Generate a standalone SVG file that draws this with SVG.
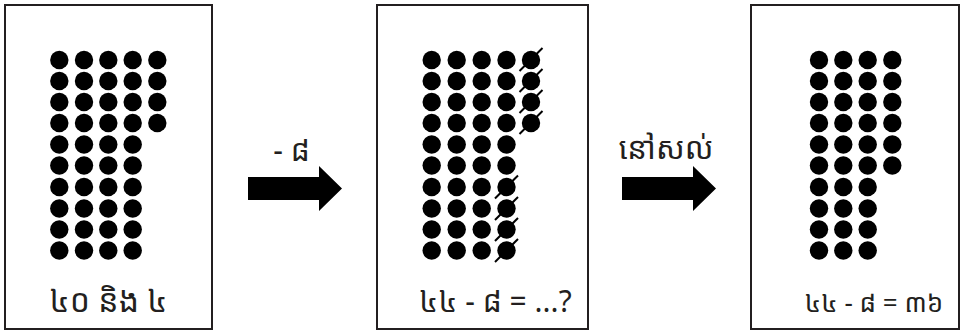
<svg xmlns="http://www.w3.org/2000/svg" width="961" height="331" viewBox="0 0 961 331">
<defs>
<style>
.box{fill:#fff;stroke:#231f20;stroke-width:2}
.d{fill:#000}
.x{stroke:#000;stroke-width:2;stroke-linecap:butt}
.t{font-family:"Noto Sans Khmer","Khmer OS","Noto Sans","DejaVu Sans",sans-serif;font-size:30px;fill:#231f20;text-anchor:middle}
.arr{fill:#000}
</style>
<circle id="dot" r="9.2"/>
</defs>
<rect width="961" height="331" fill="#fff"/>
<g id="box1">
<rect class="box" x="5" y="5" width="207" height="324"/>
<g class="d">
<use href="#dot" x="59.3" y="60"/><use href="#dot" x="84" y="60"/><use href="#dot" x="108.3" y="60"/><use href="#dot" x="132.7" y="60"/><use href="#dot" x="157.3" y="60"/>
<use href="#dot" x="59.3" y="81"/><use href="#dot" x="84" y="81"/><use href="#dot" x="108.3" y="81"/><use href="#dot" x="132.7" y="81"/><use href="#dot" x="157.3" y="81"/>
<use href="#dot" x="59.3" y="102"/><use href="#dot" x="84" y="102"/><use href="#dot" x="108.3" y="102"/><use href="#dot" x="132.7" y="102"/><use href="#dot" x="157.3" y="102"/>
<use href="#dot" x="59.3" y="123"/><use href="#dot" x="84" y="123"/><use href="#dot" x="108.3" y="123"/><use href="#dot" x="132.7" y="123"/><use href="#dot" x="157.3" y="123"/>
<use href="#dot" x="59.3" y="144.5"/><use href="#dot" x="84" y="144.5"/><use href="#dot" x="108.3" y="144.5"/><use href="#dot" x="132.7" y="144.5"/>
<use href="#dot" x="59.3" y="165.5"/><use href="#dot" x="84" y="165.5"/><use href="#dot" x="108.3" y="165.5"/><use href="#dot" x="132.7" y="165.5"/>
<use href="#dot" x="59.3" y="187"/><use href="#dot" x="84" y="187"/><use href="#dot" x="108.3" y="187"/><use href="#dot" x="132.7" y="187"/>
<use href="#dot" x="59.3" y="208.5"/><use href="#dot" x="84" y="208.5"/><use href="#dot" x="108.3" y="208.5"/><use href="#dot" x="132.7" y="208.5"/>
<use href="#dot" x="59.3" y="229.5"/><use href="#dot" x="84" y="229.5"/><use href="#dot" x="108.3" y="229.5"/><use href="#dot" x="132.7" y="229.5"/>
<use href="#dot" x="59.3" y="250.5"/><use href="#dot" x="84" y="250.5"/><use href="#dot" x="108.3" y="250.5"/><use href="#dot" x="132.7" y="250.5"/>
</g>
<text class="t" x="108.5" y="312" style="font-size:32px">៤០ និង ៤</text>
</g>
<g id="box2">
<rect class="box" x="377" y="5" width="211" height="324"/>
<g class="d">
<use href="#dot" x="431.7" y="60"/><use href="#dot" x="456.7" y="60"/><use href="#dot" x="481.7" y="60"/><use href="#dot" x="506.5" y="60"/><use href="#dot" x="531" y="60"/>
<use href="#dot" x="431.7" y="81"/><use href="#dot" x="456.7" y="81"/><use href="#dot" x="481.7" y="81"/><use href="#dot" x="506.5" y="81"/><use href="#dot" x="531" y="81"/>
<use href="#dot" x="431.7" y="102"/><use href="#dot" x="456.7" y="102"/><use href="#dot" x="481.7" y="102"/><use href="#dot" x="506.5" y="102"/><use href="#dot" x="531" y="102"/>
<use href="#dot" x="431.7" y="123"/><use href="#dot" x="456.7" y="123"/><use href="#dot" x="481.7" y="123"/><use href="#dot" x="506.5" y="123"/><use href="#dot" x="531" y="123"/>
<use href="#dot" x="431.7" y="144.5"/><use href="#dot" x="456.7" y="144.5"/><use href="#dot" x="481.7" y="144.5"/><use href="#dot" x="506.5" y="144.5"/>
<use href="#dot" x="431.7" y="165.5"/><use href="#dot" x="456.7" y="165.5"/><use href="#dot" x="481.7" y="165.5"/><use href="#dot" x="506.5" y="165.5"/>
<use href="#dot" x="431.7" y="187"/><use href="#dot" x="456.7" y="187"/><use href="#dot" x="481.7" y="187"/><use href="#dot" x="506.5" y="187"/>
<use href="#dot" x="431.7" y="208.5"/><use href="#dot" x="456.7" y="208.5"/><use href="#dot" x="481.7" y="208.5"/><use href="#dot" x="506.5" y="208.5"/>
<use href="#dot" x="431.7" y="229.5"/><use href="#dot" x="456.7" y="229.5"/><use href="#dot" x="481.7" y="229.5"/><use href="#dot" x="506.5" y="229.5"/>
<use href="#dot" x="431.7" y="250.5"/><use href="#dot" x="456.7" y="250.5"/><use href="#dot" x="481.7" y="250.5"/><use href="#dot" x="506.5" y="250.5"/>
</g>
<g class="x">
<line x1="519.5" y1="71" x2="542.5" y2="48"/>
<line x1="519.5" y1="92" x2="542.5" y2="69"/>
<line x1="519.5" y1="113" x2="542.5" y2="90"/>
<line x1="519.5" y1="134" x2="542.5" y2="111"/>
<line x1="495" y1="198.5" x2="518" y2="175.5"/>
<line x1="495" y1="220" x2="518" y2="197"/>
<line x1="495" y1="241" x2="518" y2="218"/>
<line x1="495" y1="262" x2="518" y2="239"/>
</g>
<text class="t" x="495.5" y="312">៤៤ - ៨ = ...?</text>
</g>
<g id="box3">
<rect class="box" x="751" y="5" width="208" height="324"/>
<g class="d">
<use href="#dot" x="819" y="60"/><use href="#dot" x="843.3" y="60"/><use href="#dot" x="867.7" y="60"/><use href="#dot" x="892.3" y="60"/>
<use href="#dot" x="819" y="81"/><use href="#dot" x="843.3" y="81"/><use href="#dot" x="867.7" y="81"/><use href="#dot" x="892.3" y="81"/>
<use href="#dot" x="819" y="102"/><use href="#dot" x="843.3" y="102"/><use href="#dot" x="867.7" y="102"/><use href="#dot" x="892.3" y="102"/>
<use href="#dot" x="819" y="123"/><use href="#dot" x="843.3" y="123"/><use href="#dot" x="867.7" y="123"/><use href="#dot" x="892.3" y="123"/>
<use href="#dot" x="819" y="144.5"/><use href="#dot" x="843.3" y="144.5"/><use href="#dot" x="867.7" y="144.5"/><use href="#dot" x="892.3" y="144.5"/>
<use href="#dot" x="819" y="165.5"/><use href="#dot" x="843.3" y="165.5"/><use href="#dot" x="867.7" y="165.5"/><use href="#dot" x="892.3" y="165.5"/>
<use href="#dot" x="819" y="187"/><use href="#dot" x="843.3" y="187"/><use href="#dot" x="867.7" y="187"/>
<use href="#dot" x="819" y="208.5"/><use href="#dot" x="843.3" y="208.5"/><use href="#dot" x="867.7" y="208.5"/>
<use href="#dot" x="819" y="229.5"/><use href="#dot" x="843.3" y="229.5"/><use href="#dot" x="867.7" y="229.5"/>
<use href="#dot" x="819" y="250.5"/><use href="#dot" x="843.3" y="250.5"/><use href="#dot" x="867.7" y="250.5"/>
</g>
<text class="t" x="874" y="312" style="font-size:26px">៤៤ - ៨ = ៣៦</text>
</g>
<g id="connectors">
<g id="arrow1">
<polygon class="arr" points="248,177 319,177 319,166 342,188.5 319,211 319,200 248,200"/>
<text class="t" x="291.5" y="161">- ៨</text>
</g>
<g id="arrow2">
<polygon class="arr" points="622,177 693,177 693,166 716,188.5 693,211 693,200 622,200"/>
<text class="t" x="666" y="159" style="font-size:31px">នៅសល់</text>
</g>
</g>
</svg>
